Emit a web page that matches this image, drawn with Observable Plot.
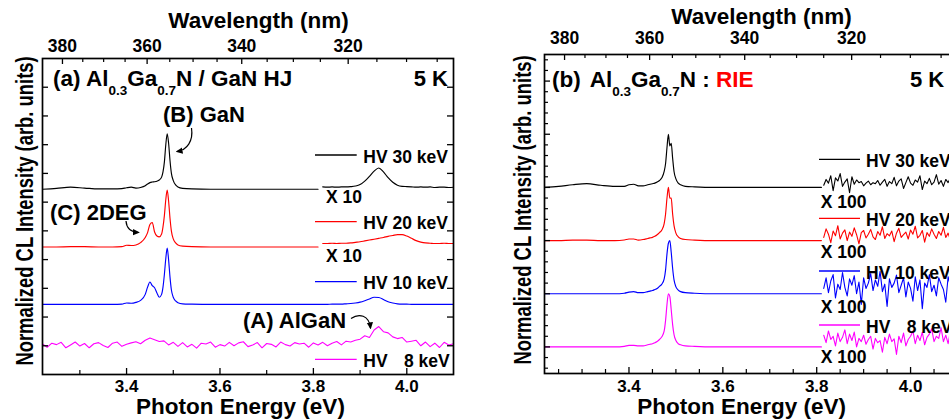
<!DOCTYPE html>
<html><head><meta charset="utf-8">
<script src="https://cdn.jsdelivr.net/npm/d3@7"></script>
<script src="https://cdn.jsdelivr.net/npm/@observablehq/plot@0.6"></script>
<style>
html,body{margin:0;padding:0;background:#fff;}
#wrap{position:relative;width:949px;height:420px;overflow:hidden;background:#fff;}
#wrap text{font-family:'Liberation Sans',Arial,sans-serif;font-weight:bold;}
</style></head><body><div id="wrap"></div><script>
const hc = 1239.84;

// ---- energy grids (eV) ----
const E_main = [3.22, 3.25, 3.28, 3.31, 3.34, 3.37, 3.39, 3.40, 3.41, 3.42, 3.43, 3.44, 3.445, 3.45, 3.455, 3.46, 3.465, 3.47, 3.475, 3.478, 3.481, 3.484, 3.487, 3.490, 3.493, 3.496, 3.50, 3.505, 3.51, 3.52, 3.54, 3.58, 3.65, 3.72, 3.81];
const E_hi = [3.82, 3.83, 3.84, 3.85, 3.86, 3.87, 3.88, 3.89, 3.90, 3.91, 3.92, 3.93, 3.94, 3.95, 3.96, 3.97, 3.98, 3.99, 4.00, 4.01, 4.02, 4.03, 4.04, 4.05, 4.06, 4.07, 4.08, 4.09, 4.10];
const E_full = [3.22, 3.23, 3.24, 3.25, 3.26, 3.27, 3.28, 3.29, 3.30, 3.31,
  3.32, 3.33, 3.34, 3.35, 3.36, 3.37, 3.38, 3.39, 3.40, 3.41,
  3.42, 3.43, 3.44, 3.45, 3.46, 3.47, 3.48, 3.49, 3.50, 3.51,
  3.52, 3.53, 3.54, 3.55, 3.56, 3.57, 3.58, 3.59, 3.60, 3.61,
  3.62, 3.63, 3.64, 3.65, 3.66, 3.67, 3.68, 3.69, 3.70, 3.71,
  3.72, 3.73, 3.74, 3.75, 3.76, 3.77, 3.78, 3.79, 3.80, 3.81,
  3.82, 3.83, 3.84, 3.85, 3.86, 3.87, 3.88, 3.89, 3.90, 3.91,
  3.92, 3.93, 3.94, 3.95, 3.96, 3.97, 3.98, 3.99, 4.00, 4.01,
  4.02, 4.03, 4.04, 4.05, 4.06, 4.07, 4.08, 4.09, 4.10];
const E_noise = [3.815, 3.820, 3.825, 3.830, 3.835, 3.840, 3.845, 3.850, 3.855, 3.860,
  3.865, 3.870, 3.875, 3.880, 3.885, 3.890, 3.895, 3.900, 3.905, 3.910,
  3.915, 3.920, 3.925, 3.930, 3.935, 3.940, 3.945, 3.950, 3.955, 3.960,
  3.965, 3.970, 3.975, 3.980, 3.985, 3.990, 3.995, 4.000, 4.005, 4.010,
  4.015, 4.020, 4.025, 4.030, 4.035, 4.040, 4.045, 4.050, 4.055, 4.060,
  4.065, 4.070, 4.075, 4.080, 4.085, 4.090, 4.095, 4.100];

// ---- panel (a): Al0.3Ga0.7N / GaN HJ ----
const a30 = [0.0, 0.03, 0.07, 0.04, 0.01, 0.01, 0.02, 0.05, 0.07, 0.04, 0.06, 0.12, 0.18, 0.23, 0.25, 0.26, 0.28, 0.32, 0.42, 0.6, 0.95, 1.55, 1.93, 1.6, 1.0, 0.55, 0.3, 0.15, 0.08, 0.03, 0.01, 0.0, 0.0, 0.0, 0.0];
const a30x10 = [0.08, 0.07, 0.08, 0.07, 0.08, 0.08, 0.09, 0.11, 0.16, 0.28, 0.45, 0.63, 0.74, 0.6, 0.4, 0.24, 0.14, 0.1, 0.09, 0.08, 0.07, 0.08, 0.07, 0.08, 0.06, 0.07, 0.07, 0.06, 0.07];
const a20 = [0, 0, 0.01, 0.01, 0, 0, 0.01, 0.06, 0.05, 0.07, 0.15, 0.33, 0.5, 0.78, 0.85, 0.52, 0.38, 0.35, 0.45, 0.7, 1.1, 1.65, 1.98, 1.6, 1.0, 0.55, 0.28, 0.14, 0.07, 0.03, 0.01, 0, 0, 0, 0];
const a20x10 = [0.12, 0.12, 0.13, 0.12, 0.13, 0.13, 0.14, 0.16, 0.18, 0.21, 0.24, 0.27, 0.3, 0.33, 0.37, 0.4, 0.43, 0.43, 0.38, 0.3, 0.22, 0.17, 0.14, 0.13, 0.12, 0.12, 0.13, 0.12, 0.12];
const a10 = [0, 0, 0, 0, 0, 0, 0.01, 0.05, 0.04, 0.07, 0.14, 0.35, 0.6, 0.78, 0.65, 0.58, 0.4, 0.25, 0.35, 0.6, 1.05, 1.6, 1.96, 1.55, 0.95, 0.5, 0.25, 0.12, 0.06, 0.02, 0.01, 0, 0, 0, 0];
const a10hi = [0, 0, 0.01, 0.01, 0.01, 0.02, 0.03, 0.05, 0.08, 0.13, 0.19, 0.25, 0.24, 0.17, 0.09, 0.05, 0.02, 0.01, 0.01, 0, 0, 0, 0, 0, 0, 0, 0, 0, 0];
const a8 = [0.03, -0.08, 0.06, 0.01, 0.09, -0.1, 0.0, 0.1, -0.04, 0.05,
  -0.1, 0.04, 0.08, -0.02, -0.09, 0.06, 0.1, -0.05, 0.02, 0.07,
  0.11, 0.04, 0.16, 0.24, 0.18, 0.12, 0.14, 0.0, 0.09, -0.05,
  0.08, -0.07, 0.02, -0.11, 0.06, 0.03, 0.1, -0.08, 0.01, -0.04,
  0.09, -0.03, 0.07, 0.11, -0.06, 0.0, 0.08, -0.1, 0.05, 0.02,
  -0.07, 0.1, 0.01, -0.04, 0.08, 0.03, 0.06, -0.08, 0.07, 0.0,
  0.09, -0.03, 0.06, 0.12, 0.0, 0.13, 0.1, 0.16, 0.2, 0.32,
  0.26, 0.52, 0.64, 0.46, 0.42, 0.28, 0.22, 0.26, 0.1, 0.13,
  0.16, -0.03, 0.1, -0.06, 0.06, -0.09, 0.09, 0.0, 0.04];

// ---- panel (b): Al0.3Ga0.7N : RIE ----
const b30 = [0, 0.02, 0.05, 0.07, 0.04, 0.02, 0.02, 0.05, 0.06, 0.03, 0.03, 0.05, 0.06, 0.07, 0.08, 0.1, 0.13, 0.18, 0.3, 0.45, 0.75, 1.0, 0.78, 0.83, 0.55, 0.3, 0.16, 0.08, 0.05, 0.02, 0.01, 0, 0, 0, 0];
const b20 = [0, 0, 0.01, 0.01, 0, 0, 0.01, 0.03, 0.03, 0.01, 0.02, 0.04, 0.05, 0.06, 0.08, 0.11, 0.15, 0.2, 0.32, 0.5, 0.8, 1.0, 0.8, 0.8, 0.5, 0.28, 0.14, 0.07, 0.04, 0.02, 0.01, 0, 0, 0, 0];
const b10 = [0, 0, 0, 0, 0, 0, 0.01, 0.03, 0.04, 0.02, 0.02, 0.04, 0.05, 0.06, 0.08, 0.1, 0.14, 0.18, 0.28, 0.45, 0.75, 0.95, 1.0, 0.78, 0.48, 0.26, 0.13, 0.07, 0.04, 0.02, 0.01, 0, 0, 0, 0];
const b8 = [0, 0, 0, 0, 0, 0, 0.01, 0.03, 0.03, 0.02, 0.02, 0.04, 0.05, 0.06, 0.08, 0.1, 0.14, 0.19, 0.3, 0.5, 0.8, 1.0, 0.95, 0.7, 0.42, 0.23, 0.12, 0.06, 0.04, 0.02, 0.01, 0, 0, 0, 0];
const b30n = [0.04, 0.15, 0.08, 0.22, -0.06, 0.18, 0.12, 0.26, 0.02, 0.1,
  0.16, -0.1, 0.2, 0.06, 0.14, 0.09, 0.11, 0.03, 0.08, 0.12,
  0.05, 0.09, 0.07, 0.13, 0.04, 0.1, 0.15, 0.02, 0.11, 0.07,
  0.19, 0.03, 0.12, 0.16, -0.02, 0.09, 0.2, 0.08, 0.04, 0.14,
  0.1, 0.22, -0.04, 0.12, 0.07, 0.17, 0.05, 0.1, 0.24, 0.06,
  0.13, 0.02, 0.15, 0.09, 0.18, 0.04, 0.11, 0.14];
const b20n = [0.06, 0.22, 0.12, -0.04, 0.18, 0.09, 0.28, 0.03, 0.14, 0.2,
  0.0, 0.16, 0.08, 0.24, 0.11, -0.06, 0.15, 0.19, 0.05, 0.12,
  0.21, 0.07, 0.02, 0.17, 0.1, 0.26, 0.04, 0.13, 0.09, 0.18,
  -0.02, 0.14, 0.23, 0.06, 0.11, 0.16, 0.03, 0.2, 0.12, 0.27,
  0.05, 0.1, 0.19, -0.03, 0.15, 0.08, 0.22, 0.12, 0.04, 0.17,
  0.1, 0.25, 0.06, 0.14, 0.01, 0.19, 0.09, 0.13];
const b10n = [0.1, 0.3, 0.02, 0.24, 0.36, -0.08, 0.18, 0.08, 0.4, 0.12,
  -0.04, 0.28, 0.16, 0.34, 0.0, 0.22, -0.2, 0.3, 0.1, 0.2,
  0.38, 0.06, 0.26, 0.14, 0.42, 0.04, 0.18, -0.24, 0.28, 0.12,
  0.2, 0.35, 0.02, 0.16, 0.3, -0.06, 0.22, 0.1, -0.14, 0.32,
  0.06, 0.26, -0.28, 0.2, 0.12, 0.36, 0.04, 0.16, -0.04, 0.3,
  0.18, 0.08, -0.16, 0.32, 0.14, 0.24, 0.0, 0.2];
const b8n = [0.22, 0.08, 0.3, 0.14, 0.2, 0.02, 0.26, 0.1, 0.18, 0.32,
  0.06, 0.24, 0.12, 0.28, 0.0, 0.16, 0.1, 0.22, 0.05, 0.14,
  0.2, -0.04, 0.16, 0.08, 0.12, -0.1, 0.18, 0.06, 0.24, 0.1,
  0.15, -0.14, 0.2, 0.08, 0.26, 0.02, 0.14, 0.2, 0.3, 0.06,
  0.22, 0.12, 0.28, 0.04, 0.18, 0.24, 0.34, 0.1, 0.2, 0.16,
  0.36, 0.1, 0.22, 0.06, 0.3, 0.18, 0.26, 0.14];

const offsetsA = [6.45, 4.44, 2.44, 1.03];
const offsetsB = [3.5, 2.5, 1.5, 0.5];
const colors = ["#000000", "#ff0000", "#0000ff", "#ff00ff"];
const hvValues = ["30 keV", "20 keV", "10 keV", "8 keV"];
const gainA = ["X 10", "X 10"];
const gainB = ["X 100", "X 100", "X 100", "X 100"];

// ---- ticks ----
const xMajor = [3.4, 3.6, 3.8, 4.0];
const xMinorA = [3.3, 3.5, 3.7, 3.9];
const xMinorB = [3.25, 3.3, 3.35, 3.45, 3.5, 3.55, 3.65, 3.7, 3.75, 3.85, 3.9, 3.95, 4.05];
const wlMajor = [380, 360, 340, 320];
const wlMinor = [375, 370, 365, 355, 350, 345, 335, 330, 325, 315, 310, 305];
const yTicksA = [1, 2, 3, 4, 5, 6, 7, 8, 9, 10];
const yMajorB = [0.5, 1.5, 2.5, 3.5, 4.5, 5.5];
const yMinorB = [0.1, 0.3, 0.7, 0.9, 1.1, 1.3, 1.7, 1.9, 2.1, 2.3, 2.7, 2.9, 3.1, 3.3, 3.7, 3.9, 4.1, 4.3, 4.7, 4.9, 5.1, 5.3, 5.7, 5.9];

function pts(E, I, off) {
  const n = Math.min(E.length, I.length);
  const out = [];
  for (let i = 0; i < n; i++) out.push({E: E[i], v: off + I[i]});
  return out;
}

const font = "'Liberation Sans', Arial, sans-serif";
const baseStyle = {fontFamily: font, fontSize: "17px", fontWeight: "bold", background: "transparent", overflow: "visible", color: "#000"};

function frameMarks(o) {
  const {plotW, plotH, xMinor, yMajor, yMinor, topPad, botPad} = o;
  const m = [];
  m.push(Plot.tickX(xMajor, {x: d => d, insetTop: plotH - 6, strokeWidth: 1.3}));
  m.push(Plot.tickX(xMinor, {x: d => d, insetTop: plotH - 4, strokeWidth: 1.2}));
  m.push(Plot.tickX(wlMajor.map(l => hc / l), {x: d => d, insetBottom: plotH - 6, strokeWidth: 1.3}));
  m.push(Plot.tickX(wlMinor.map(l => hc / l), {x: d => d, insetBottom: plotH - 4, strokeWidth: 1.2}));
  m.push(Plot.tickY(yMajor, {y: d => d, insetRight: plotW - 6, strokeWidth: 1.3}));
  m.push(Plot.tickY(yMajor, {y: d => d, insetLeft: plotW - 6, strokeWidth: 1.3}));
  if (yMinor) {
    m.push(Plot.tickY(yMinor, {y: d => d, insetRight: plotW - 4, strokeWidth: 1.2}));
    m.push(Plot.tickY(yMinor, {y: d => d, insetLeft: plotW - 4, strokeWidth: 1.2}));
  }
  m.push(Plot.axisX(xMajor, {anchor: "bottom", tickSize: 0, tickPadding: botPad, tickFormat: d => d.toFixed(1), label: null, fontSize: 17}));
  m.push(Plot.axisX(wlMajor.map(l => hc / l), {anchor: "top", tickSize: 0, tickPadding: topPad, tickFormat: e => String(Math.round(hc / e)), label: null, fontSize: 17.5}));
  m.push(Plot.frame({strokeWidth: 1.7}));
  return m;
}

const wrap = document.getElementById("wrap");

// ---- left plot ----
const lw = 1.15;
const left = Plot.plot({
  width: 480, height: 420, marginLeft: 42, marginRight: 27, marginTop: 58, marginBottom: 46,
  x: {domain: [3.22, 4.10]}, y: {domain: [0, 11], axis: null},
  style: baseStyle,
  marks: [
    Plot.line(pts(E_main, a30, offsetsA[0]), {x: "E", y: "v", stroke: colors[0], strokeWidth: lw, curve: "monotone-x"}),
    Plot.line(pts(E_hi, a30x10, offsetsA[0]), {x: "E", y: "v", stroke: colors[0], strokeWidth: lw, curve: "monotone-x"}),
    Plot.line(pts(E_main, a20, offsetsA[1]), {x: "E", y: "v", stroke: colors[1], strokeWidth: lw, curve: "monotone-x"}),
    Plot.line(pts(E_hi, a20x10, offsetsA[1]), {x: "E", y: "v", stroke: colors[1], strokeWidth: lw, curve: "monotone-x"}),
    Plot.line(pts(E_main.concat(E_hi), a10.concat(a10hi), offsetsA[2]), {x: "E", y: "v", stroke: colors[2], strokeWidth: lw, curve: "monotone-x"}),
    Plot.line(pts(E_full, a8, offsetsA[3]), {x: "E", y: "v", stroke: colors[3], strokeWidth: 1.1}),
    ...frameMarks({plotW: 411, plotH: 316, xMinor: xMinorA, yMajor: yTicksA, yMinor: null, topPad: 7, botPad: 5})
  ]
});
left.style.position = "absolute"; left.style.left = "0px"; left.style.top = "0px";
wrap.appendChild(left);

// ---- right plot ----
const right = Plot.plot({
  width: 480, height: 420, marginLeft: 64, marginRight: 3, marginTop: 54, marginBottom: 47,
  x: {domain: [3.22, 4.10]}, y: {domain: [0, 6], axis: null},
  style: baseStyle,
  marks: [
    Plot.line(pts(E_main, b30, offsetsB[0]), {x: "E", y: "v", stroke: colors[0], strokeWidth: lw, curve: "monotone-x"}),
    Plot.line(pts(E_noise, b30n, offsetsB[0]), {x: "E", y: "v", stroke: colors[0], strokeWidth: 1.1}),
    Plot.line(pts(E_main, b20, offsetsB[1]), {x: "E", y: "v", stroke: colors[1], strokeWidth: lw, curve: "monotone-x"}),
    Plot.line(pts(E_noise, b20n, offsetsB[1]), {x: "E", y: "v", stroke: colors[1], strokeWidth: 1.1}),
    Plot.line(pts(E_main, b10, offsetsB[2]), {x: "E", y: "v", stroke: colors[2], strokeWidth: lw, curve: "monotone-x"}),
    Plot.line(pts(E_noise, b10n, offsetsB[2]), {x: "E", y: "v", stroke: colors[2], strokeWidth: 1.1}),
    Plot.line(pts(E_main, b8, offsetsB[3]), {x: "E", y: "v", stroke: colors[3], strokeWidth: lw, curve: "monotone-x"}),
    Plot.line(pts(E_noise, b8n, offsetsB[3]), {x: "E", y: "v", stroke: colors[3], strokeWidth: 1.1}),
    ...frameMarks({plotW: 413, plotH: 319, xMinor: xMinorB, yMajor: yMajorB, yMinor: yMinorB, topPad: 11, botPad: 6})
  ]
});
right.style.position = "absolute"; right.style.left = "480px"; right.style.top = "0px";
wrap.appendChild(right);

// ---- annotations overlay ----
const ov = d3.select(wrap).append("svg")
  .attr("width", 949).attr("height", 420)
  .style("position", "absolute").style("left", "0px").style("top", "0px")
  .style("overflow", "hidden");
ov.append("defs").append("marker")
  .attr("id", "ah").attr("viewBox", "0 0 10 10").attr("refX", 8).attr("refY", 5)
  .attr("markerWidth", 7).attr("markerHeight", 7).attr("markerUnits", "userSpaceOnUse").attr("orient", "auto")
  .append("path").attr("d", "M0,0.5 L10,5 L0,9.5 Z").attr("fill", "#000");

function txt(x, y, s, size, anchor = "start", fill = "#000") {
  return ov.append("text").attr("x", x).attr("y", y).attr("font-size", size)
    .attr("text-anchor", anchor).attr("fill", fill).text(s);
}
function title(x, y, parts, size) {
  const t = ov.append("text").attr("x", x).attr("y", y).attr("font-size", size);
  parts.forEach(p => {
    const ts = t.append("tspan").text(p.t);
    if (p.sub) ts.attr("font-size", 13.5).attr("dy", 9);
    if (p.up) ts.attr("dy", -9);
    if (p.dx) ts.attr("dx", p.dx);
    if (p.fill) ts.attr("fill", p.fill);
  });
}
function ylabel(x, y) {
  ov.append("text").attr("transform", `translate(${x},${y}) rotate(-90) scale(0.8,1)`)
    .attr("text-anchor", "middle").attr("font-size", 23)
    .text("Normalized CL Intensity (arb. units)");
}

// axis titles
txt(258.5, 28, "Wavelength (nm)", 22.5, "middle");
txt(761.5, 24, "Wavelength (nm)", 22.5, "middle");
txt(240.5, 414, "Photon Energy (eV)", 22.5, "middle");
txt(741.7, 414, "Photon Energy (eV)", 22.5, "middle");
ylabel(32.5, 211);
ylabel(530.5, 210);

// panel titles
title(53, 86, [{t: "(a) Al"}, {t: "0.3", sub: true}, {t: "Ga", up: true}, {t: "0.7", sub: true}, {t: "N / GaN HJ", up: true}], 22.5);
txt(448, 86, "5 K", 22, "end");
title(552, 87, [{t: "(b)"}, {t: "Al", dx: 9}, {t: "0.3", sub: true}, {t: "Ga", up: true}, {t: "0.7", sub: true}, {t: "N : ", up: true}, {t: "RIE", fill: "#ff0000"}], 22.5);
txt(910, 87, "5 K", 22);

// peak labels + arrows
txt(163, 121.5, "(B) GaN", 22);
txt(50, 220, "(C) 2DEG", 22);
txt(243, 328, "(A) AlGaN", 22);
const arrows = ["M191.5,128 C193.5,141 187,150 177,151.5", "M126,221 C126.5,228.5 131,232 138.5,232.5", "M351,318.5 C359,313 369,315 370.5,328"];
arrows.forEach(d => ov.append("path").attr("d", d).attr("fill", "none").attr("stroke", "#000").attr("stroke-width", 1.2).attr("marker-end", "url(#ah)"));

// legends
const legA = [155, 221.7, 281.7, 359.3];
legA.forEach((y, i) => {
  ov.append("line").attr("x1", 315).attr("x2", 356.7).attr("y1", y).attr("y2", y).attr("stroke", colors[i]).attr("stroke-width", 1.3);
  if (i < 3) txt(363.3, y + 7.5, "HV " + hvValues[i], 17.5);
  else { txt(363.3, y + 7.5, "HV", 17.5); txt(404, y + 7.5, hvValues[i], 17.5); }
});
[203.3, 261.7].forEach((y, i) => txt(326, y, gainA[i], 17.5));

const legB = [159.3, 218.3, 271, 325];
legB.forEach((y, i) => {
  ov.append("line").attr("x1", 819).attr("x2", 860).attr("y1", y).attr("y2", y).attr("stroke", colors[i]).attr("stroke-width", 1.3);
  if (i < 3) txt(866, y + 7.5, "HV " + hvValues[i], 17.5);
  else { txt(866, y + 7.5, "HV", 17.5); txt(906.7, y + 7.5, hvValues[i], 17.5); }
});
[207.5, 258, 313, 363].forEach((y, i) => txt(820.7, y, gainB[i], 17.5));
</script></body></html>
